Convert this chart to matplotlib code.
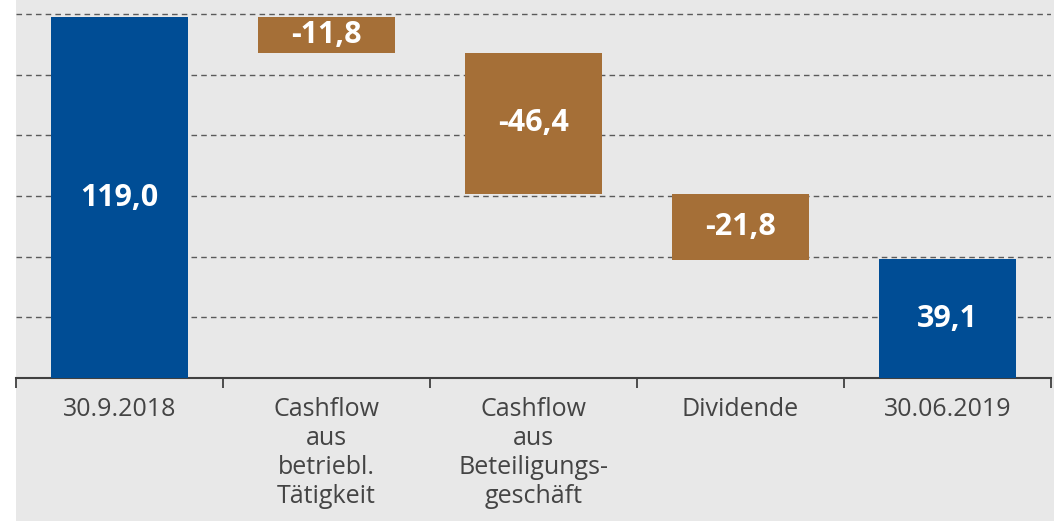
import matplotlib.pyplot as plt
from matplotlib.patches import Rectangle
from matplotlib.ticker import MultipleLocator, FixedLocator

plt.rcParams['font.family'] = ['Open Sans', 'DejaVu Sans']

categories = ['30.9.2018', 'Cashflow\naus\nbetriebl.\nTätigkeit',
              'Cashflow\naus\nBeteiligungs-\ngeschäft', 'Dividende', '30.06.2019']
start_value = 119.0
changes = [-11.8, -46.4, -21.8]
end_value = 39.1

BLUE = '#004d95'
BROWN = '#a56f37'
BG = '#e8e8e8'

# build waterfall bars
bottoms, heights, colors, labels = [0], [start_value], [BLUE], [start_value]
level = start_value
for c in changes:
    level += c
    bottoms.append(level)
    heights.append(-c)
    colors.append(BROWN)
    labels.append(c)
bottoms.append(0)
heights.append(end_value)
colors.append(BLUE)
labels.append(end_value)

fig = plt.figure(figsize=(10.54, 5.21), dpi=100, facecolor=BG)
# white strip on the far left
fig.patches.append(Rectangle((0, 0), 16 / 1054, 1, transform=fig.transFigure,
                             facecolor='white', edgecolor='none', zorder=-10))
ax = fig.add_axes([16 / 1054, (521 - 378) / 521, (1051 - 16) / 1054, 378 / 521])
ax.set_facecolor('none')

x = range(len(categories))
ax.bar(x, heights, bottom=bottoms, width=0.66, color=colors, zorder=3)

for i, (b, h, v) in enumerate(zip(bottoms, heights, labels)):
    txt = f'{v:.1f}'.replace('.', ',')
    ax.text(i, b + h / 2, txt, ha='center', va='center', color='white',
            fontsize=22, fontweight='bold', zorder=4)

ax.set_xlim(-0.5, len(categories) - 0.5)
ax.set_ylim(0, 124.7)
ax.yaxis.set_major_locator(MultipleLocator(20))
ax.grid(axis='y', color='#5a5a5a', linestyle=(0, (4, 3)), linewidth=1.0, zorder=1)
ax.tick_params(axis='y', left=False, labelleft=False)

ax.set_xticks(list(x))
ax.set_xticklabels(categories, fontsize=18, color='#444444', linespacing=1.2, va='top')
ax.xaxis.set_minor_locator(FixedLocator([i - 0.5 for i in range(len(categories) + 1)]))
ax.tick_params(axis='x', which='major', length=0, pad=14)
ax.tick_params(axis='x', which='minor', length=7, width=1.3, color='#404040', direction='out')

for s in ['left', 'right', 'top']:
    ax.spines[s].set_visible(False)
ax.spines['bottom'].set_color('#404040')
ax.spines['bottom'].set_linewidth(1.5)

fig.savefig('out.png', dpi=100, facecolor=fig.get_facecolor())
